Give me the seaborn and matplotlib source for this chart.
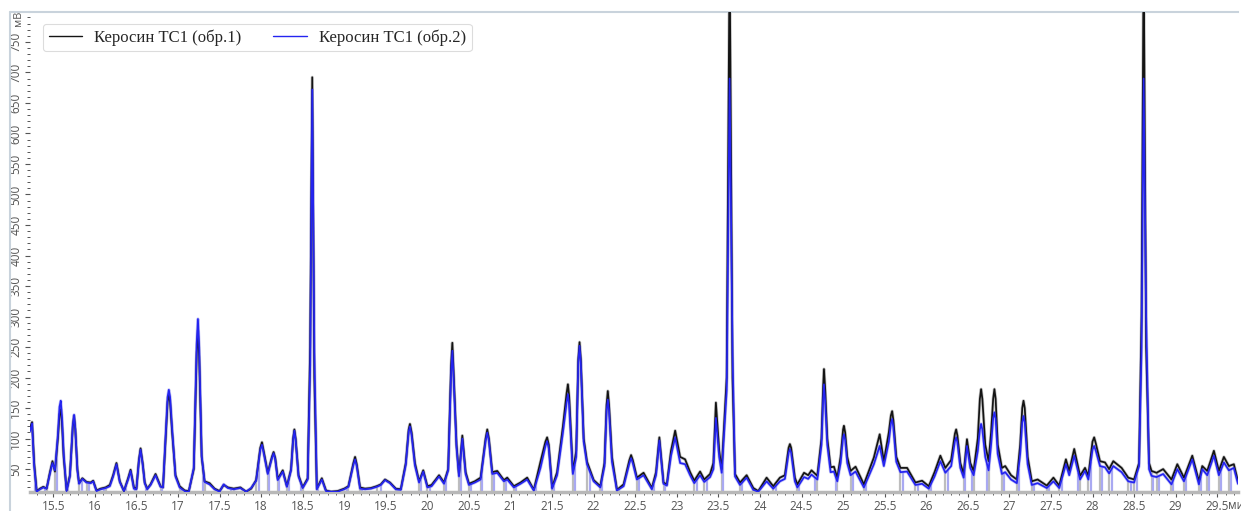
import numpy as np
import pandas as pd
import matplotlib
matplotlib.use("Agg")
import matplotlib.pyplot as plt
import seaborn as sns
from matplotlib.ticker import MultipleLocator, FuncFormatter
from matplotlib.lines import Line2D

# ------------------------------
# data (time, min / signal, mV)
# ------------------------------
sample_1 = "Керосин ТС1 (обр.1)"
sample_2 = "Керосин ТС1 (обр.2)"

ret_time = [
    15.22, 15.245, 15.27, 15.30, 15.34, 15.38, 15.42, 15.46, 15.49, 15.52,
    15.555, 15.575, 15.59, 15.605, 15.625, 15.66, 15.70, 15.735, 15.75, 15.765, 15.79,
    15.81, 15.85, 15.90, 15.95, 15.98, 16.02, 16.07, 16.13, 16.18, 16.22,
    16.26, 16.30, 16.35, 16.40, 16.43, 16.47, 16.50, 16.53, 16.55, 16.575,
    16.60, 16.63, 16.67, 16.73, 16.79, 16.82, 16.855, 16.875, 16.89, 16.905, 16.93, 16.97,
    17.02, 17.08, 17.13, 17.19, 17.225, 17.24, 17.255, 17.285, 17.32, 17.38,
    17.44, 17.50, 17.55, 17.60, 17.67, 17.75, 17.82, 17.88, 17.94, 17.99, 18.01, 18.03,
    18.08, 18.13, 18.15, 18.17, 18.20, 18.26, 18.31, 18.36, 18.385, 18.40, 18.415, 18.45,
    18.50, 18.56, 18.59, 18.615, 18.64, 18.67, 18.73, 18.78, 18.84, 18.92,
    19.00, 19.05, 19.11, 19.13, 19.15, 19.19, 19.25, 19.32, 19.39, 19.44, 19.49, 19.55,
    19.62, 19.68, 19.74, 19.775, 19.79, 19.81, 19.85, 19.90, 19.95, 20.00,
    20.05, 20.14, 20.20, 20.25, 20.285, 20.30, 20.315, 20.35, 20.38, 20.42,
    20.46, 20.50, 20.57, 20.64, 20.70, 20.72, 20.74, 20.78, 20.84, 20.92,
    20.96, 21.04, 21.12, 21.20, 21.28, 21.36, 21.42, 21.44, 21.46, 21.50,
    21.56, 21.63, 21.675, 21.69, 21.705, 21.75, 21.79, 21.815, 21.83, 21.845, 21.88, 21.92,
    22.00, 22.08, 22.13, 22.155, 22.17, 22.185, 22.22, 22.28, 22.36, 22.43, 22.45, 22.47,
    22.52, 22.60, 22.70, 22.75, 22.79, 22.84, 22.88, 22.93, 22.98, 23.04,
    23.10, 23.16, 23.21, 23.28, 23.33, 23.40, 23.44, 23.47, 23.51, 23.54,
    23.60, 23.635, 23.67, 23.70, 23.76, 23.84, 23.92, 23.98, 24.08, 24.16,
    24.24, 24.30, 24.345, 24.36, 24.375, 24.42, 24.45, 24.53, 24.58, 24.62,
    24.69, 24.74, 24.76, 24.77, 24.785, 24.81, 24.85, 24.89, 24.93, 24.97,
    25.00, 25.01, 25.025, 25.05, 25.09, 25.15, 25.25, 25.37, 25.44, 25.49,
    25.55, 25.575, 25.59, 25.605, 25.64, 25.69, 25.77, 25.87, 25.95, 26.03,
    26.10, 26.17, 26.23, 26.30, 26.345, 26.36, 26.375, 26.41, 26.45, 26.49,
    26.53, 26.57, 26.62, 26.645, 26.66, 26.675, 26.71, 26.75, 26.78, 26.805, 26.82, 26.835,
    26.86, 26.91, 26.95, 27.02, 27.09, 27.13, 27.155, 27.17, 27.185, 27.22,
    27.27, 27.34, 27.45, 27.53, 27.60, 27.68, 27.72, 27.78, 27.85, 27.91,
    27.95, 28.00, 28.02, 28.04, 28.09, 28.15, 28.20, 28.25, 28.35, 28.43,
    28.50, 28.56, 28.59, 28.615, 28.645, 28.68, 28.71, 28.77, 28.85, 28.95,
    29.02, 29.10, 29.20, 29.28, 29.32, 29.38, 29.46, 29.52, 29.58, 29.64, 29.70, 29.75,
]

signal_1 = [
    118, 127, 60, 14, 18, 21, 18, 45, 63, 46,
    100, 140, 148, 125, 70, 15, 40, 120, 137, 115, 50,
    27, 35, 29, 28, 31, 15, 18, 20, 24, 40,
    60, 30, 14, 35, 49, 20, 18, 65, 84, 60,
    28, 18, 25, 42, 22, 20, 110, 160, 172, 160, 110, 40,
    22, 15, 14, 50, 240, 277, 235, 70, 30, 27,
    18, 14, 24, 20, 18, 20, 13, 18, 32, 85, 94, 80,
    44, 70, 78, 68, 34, 48, 22, 50, 100, 115, 100, 40,
    20, 35, 250, 692, 200, 18, 35, 15, 13, 14,
    18, 22, 60, 70, 58, 20, 18, 19, 22, 25, 33, 28,
    18, 17, 60, 115, 124, 110, 60, 30, 48, 22,
    24, 40, 28, 50, 220, 257, 210, 90, 40, 105,
    45, 26, 30, 36, 100, 115, 100, 45, 47, 32,
    36, 22, 28, 36, 16, 62, 95, 102, 90, 20,
    45, 120, 175, 189, 170, 45, 80, 230, 258, 230, 100, 62,
    32, 22, 60, 155, 178, 155, 70, 16, 25, 65, 73, 65,
    36, 44, 19, 45, 102, 28, 25, 80, 113, 70,
    66, 45, 31, 46, 33, 42, 60, 159, 80, 50,
    200, 900, 200, 42, 28, 40, 19, 14, 36, 22,
    36, 40, 85, 91, 85, 36, 25, 44, 40, 48,
    39, 100, 185, 214, 180, 100, 53, 54, 36, 70,
    115, 121, 110, 70, 47, 54, 25, 69, 107, 63,
    110, 138, 145, 130, 70, 52, 52, 28, 31, 22,
    45, 72, 52, 65, 108, 115, 105, 60, 42, 99,
    60, 47, 100, 165, 181, 165, 90, 63, 110, 165, 181, 165,
    90, 52, 55, 40, 33, 90, 150, 162, 150, 70,
    30, 33, 23, 36, 23, 66, 47, 83, 39, 52,
    39, 95, 102, 92, 63, 61, 50, 63, 52, 36,
    33, 60, 300, 900, 250, 60, 47, 44, 50, 33,
    58, 36, 72, 30, 55, 47, 80, 47, 70, 55, 58, 30,
]

signal_2 = [
    112, 125, 55, 13, 17, 20, 18, 43, 60, 48,
    105, 152, 162, 135, 75, 14, 38, 122, 139, 116, 48,
    26, 34, 28, 27, 30, 14, 17, 19, 22, 38,
    58, 29, 14, 33, 47, 18, 17, 63, 82, 58,
    27, 17, 24, 40, 21, 20, 115, 168, 180, 168, 115, 38,
    20, 14, 13, 52, 255, 296, 250, 72, 29, 25,
    17, 13, 25, 19, 17, 19, 13, 19, 31, 82, 90, 77,
    42, 68, 76, 66, 32, 46, 21, 48, 98, 113, 98, 38,
    19, 33, 220, 672, 240, 17, 33, 14, 13, 13,
    17, 21, 57, 66, 55, 18, 17, 18, 21, 24, 32, 27,
    17, 16, 57, 112, 120, 106, 56, 28, 46, 20,
    22, 38, 26, 48, 208, 244, 200, 86, 38, 100,
    42, 24, 28, 33, 96, 110, 96, 42, 44, 30,
    33, 20, 26, 33, 15, 52, 88, 96, 84, 18,
    40, 110, 160, 173, 155, 42, 70, 225, 252, 225, 95, 58,
    30, 20, 55, 145, 164, 145, 62, 15, 22, 60, 68, 60,
    33, 40, 17, 40, 97, 26, 23, 72, 102, 60,
    58, 40, 27, 40, 29, 37, 50, 134, 70, 44,
    180, 690, 240, 38, 24, 36, 16, 13, 30, 18,
    30, 34, 77, 83, 77, 30, 20, 37, 34, 41,
    33, 90, 165, 189, 160, 90, 45, 46, 30, 60,
    102, 107, 98, 60, 40, 46, 20, 58, 88, 55,
    95, 125, 132, 118, 62, 45, 46, 24, 26, 18,
    38, 63, 44, 55, 96, 102, 94, 52, 36, 88,
    52, 40, 80, 115, 124, 115, 70, 48, 90, 133, 143, 133,
    75, 42, 45, 33, 27, 75, 127, 137, 127, 58,
    24, 27, 19, 30, 19, 58, 40, 72, 33, 47,
    33, 82, 88, 80, 55, 53, 43, 55, 45, 30,
    28, 55, 250, 690, 300, 50, 39, 37, 42, 25,
    50, 30, 66, 25, 50, 40, 72, 40, 61, 48, 52, 26,
]

# integration boundary marks
bounds_1 = [
    15.30, 15.42, 15.52, 15.66, 15.81, 15.90, 16.02, 16.13, 16.35, 16.50,
    16.63, 16.79, 17.02, 17.13, 17.32, 17.50, 17.67, 17.82, 17.94, 18.08,
    18.20, 18.31, 18.50, 18.67, 18.78, 19.05, 19.19, 19.39, 19.62, 19.90,
    20.00, 20.20, 20.38, 20.50, 20.64, 20.78, 20.92, 21.04, 21.28, 21.50,
    21.75, 21.92, 22.08, 22.28, 22.52, 22.70, 22.84, 23.21, 23.33, 23.54,
    23.76, 23.92, 24.16, 24.45, 24.69, 24.93, 25.09, 25.25, 25.69, 25.87,
    26.03, 26.23, 26.45, 26.57, 26.75, 26.91, 27.09, 27.27, 27.45, 27.60,
    27.85, 27.95, 28.09, 28.20, 28.43, 28.50, 28.71, 28.77, 28.95, 29.10,
    29.28, 29.38, 29.52, 29.64,
]
bounds_2 = [
    15.28, 15.40, 15.54, 15.68, 15.84, 15.93, 16.04, 16.11, 16.37, 16.48,
    16.61, 16.81, 17.04, 17.11, 17.30, 17.47, 17.64, 17.80, 17.97, 18.10,
    18.22, 18.33, 18.48, 18.69, 18.80, 19.03, 19.21, 19.44, 19.65, 19.92,
    20.03, 20.22, 20.40, 20.53, 20.66, 20.80, 20.95, 21.07, 21.31, 21.52,
    21.77, 21.95, 22.10, 22.31, 22.55, 22.72, 22.86, 23.24, 23.36, 23.56,
    23.79, 23.95, 24.19, 24.47, 24.66, 24.91, 25.12, 25.28, 25.72, 25.90,
    26.06, 26.26, 26.47, 26.55, 26.73, 26.94, 27.11, 27.30, 27.48, 27.63,
    27.83, 27.98, 28.12, 28.23, 28.46, 28.53, 28.73, 28.80, 28.97, 29.13,
    29.30, 29.40, 29.55, 29.67,
]

x_ticks = [15.5, 16, 16.5, 17, 17.5, 18, 18.5, 19, 19.5, 20, 20.5, 21, 21.5, 22,
           22.5, 23, 23.5, 24, 24.5, 25, 25.5, 26, 26.5, 27, 27.5, 28, 28.5, 29, 29.5]
y_ticks = [50, 100, 150, 200, 250, 300, 350, 400, 450, 500, 550, 600, 650, 700, 750]

# ------------------------------
# long table for seaborn
# ------------------------------
df = pd.DataFrame({
    "время": ret_time + ret_time,
    "сигнал": signal_1 + signal_2,
    "проба": [sample_1] * len(ret_time) + [sample_2] * len(ret_time),
})

sns.set_style("white")
plt.rcParams["font.family"] = ["Open Sans", "DejaVu Sans"]

W, H = 1241, 511
fig = plt.figure(figsize=(W / 100, H / 100), dpi=100)
ax = fig.add_axes([30 / W, 19 / H, (1238 - 30) / W, (492 - 12) / H])

y_lo, y_hi = 12.5, 799
x_lo, x_hi = 15.22, 29.75

# boundary marks under the traces
ax.vlines(bounds_1, y_lo, np.interp(bounds_1, ret_time, signal_1),
          colors="#bdbdbd", linewidth=1.6, zorder=1)
ax.vlines(bounds_2, y_lo, np.interp(bounds_2, ret_time, signal_2),
          colors="#a9a9f2", linewidth=1.6, zorder=1)

# soft halo under each trace, like the instrument software draws it
sns.lineplot(data=df, x="время", y="сигнал", hue="проба",
             palette={sample_1: "#a0a0a0", sample_2: "#9c9cf4"},
             estimator=None, sort=False, linewidth=2.3, alpha=0.6,
             legend=False, ax=ax, zorder=2)
sns.lineplot(data=df, x="время", y="сигнал", hue="проба",
             palette={sample_1: "#141414", sample_2: "#2424f0"},
             estimator=None, sort=False, linewidth=1.25, ax=ax, zorder=3)

ax.set_xlim(x_lo, x_hi)
ax.set_ylim(y_lo, y_hi)
ax.set_xlabel("")
ax.set_ylabel("")

ax.set_xticks(x_ticks)
ax.xaxis.set_major_formatter(FuncFormatter(lambda v, p: f"{v:g}"))
ax.xaxis.set_minor_locator(MultipleLocator(0.1))
ax.set_yticks(y_ticks)
ax.yaxis.set_minor_locator(MultipleLocator(10))

ax.tick_params(axis="both", which="major", direction="out", length=3.5, width=0.8,
               color="#555555", labelsize=8.5, labelcolor="#555555", pad=2)
ax.tick_params(axis="both", which="minor", direction="out", length=2, width=0.7,
               color="#555555")
ax.tick_params(axis="x", which="both", bottom=True)
ax.tick_params(axis="y", which="both", left=True)
for lab in ax.get_yticklabels():
    lab.set_rotation(90)
    lab.set_va("center")
    lab.set_ha("right")

for side in ["left", "right"]:
    ax.spines[side].set_visible(False)
ax.spines["top"].set_color("#c9d3dc")
ax.spines["top"].set_linewidth(1.5)
ax.spines["bottom"].set_color("#b8b8b8")
ax.spines["bottom"].set_linewidth(2.5)

# outer frame of the chart panel
fig.add_artist(Line2D([10 / W, 10 / W], [0, 1 - 12 / H], transform=fig.transFigure,
                      color="#c9d3dc", linewidth=1.5))
fig.add_artist(Line2D([10 / W, 30 / W], [1 - 12 / H, 1 - 12 / H], transform=fig.transFigure,
                      color="#c9d3dc", linewidth=1.5))

# units
fig.text(19 / W, 1 - 18 / H, "мВ", rotation=90, ha="center", va="center",
         fontsize=8, color="#555555")
fig.text(1228 / W, 6 / H, "мин", ha="left", va="center", fontsize=8.5, color="#555555")

leg = ax.legend(loc="upper left", bbox_to_anchor=(0.0108, 0.975), ncol=2,
                borderaxespad=0.0,
                prop={"family": "Liberation Serif", "size": 12},
                handlelength=2.0, handletextpad=0.75, columnspacing=1.9,
                frameon=True, fancybox=True, borderpad=0.33, edgecolor="#d4d4d4")
leg.get_frame().set_linewidth(0.8)
for ln in leg.get_lines():
    ln.set_linewidth(1.0)

fig.savefig("out.png", dpi=100)
